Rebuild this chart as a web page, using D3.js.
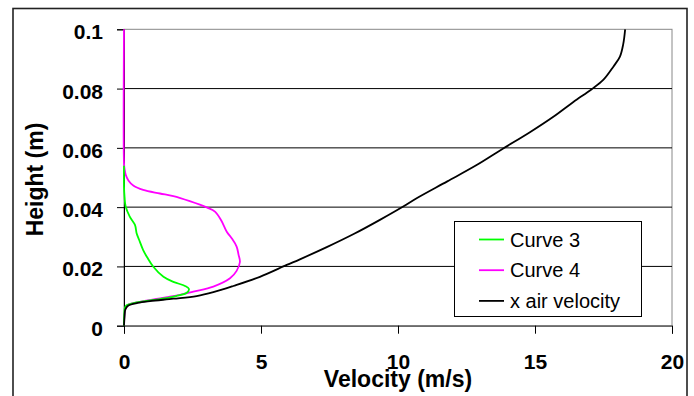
<!DOCTYPE html>
<html>
<head>
<meta charset="utf-8">
<script src="https://cdn.jsdelivr.net/npm/d3@7"></script>
<style>
  html, body { margin: 0; padding: 0; background: #fff; }
  svg { display: block; }
  text { font-family: "Liberation Sans", Arial, sans-serif; fill: #000; }
</style>
</head>
<body>
<svg id="chart" width="694" height="396"></svg>
<script>
// Velocity profiles: [velocity m/s, height m]
const curve3 = [
  [0, 0], [0.01, 0.004], [0.05, 0.0065], [0.21, 0.0073], [0.7, 0.0082], [1.31, 0.0090],
  [1.9, 0.0100], [2.29, 0.0111], [2.37, 0.0124], [2.23, 0.0134], [1.80, 0.0148],
  [1.44, 0.0165], [1.07, 0.0199], [0.85, 0.0230], [0.70, 0.0255], [0.55, 0.0290],
  [0.46, 0.0312], [0.40, 0.0340], [0.21, 0.0368], [0.06, 0.0402], [0.02, 0.0435],
  [0, 0.047], [0, 0.054]
];
const curve4 = [
  [0, 0], [0.02, 0.004], [0.1, 0.0068], [0.34, 0.0076], [1.31, 0.0092], [2.04, 0.0104],
  [2.53, 0.0115], [3.26, 0.0132], [3.87, 0.0160], [4.11, 0.0185], [4.23, 0.0215],
  [4.18, 0.0240], [4.11, 0.0267], [3.93, 0.0295], [3.75, 0.0317], [3.55, 0.0355],
  [3.32, 0.0385], [3.02, 0.0399], [2.4, 0.0420], [1.8, 0.0437], [1.31, 0.0446],
  [0.70, 0.0458], [0.35, 0.0472], [0.16, 0.0490], [0.06, 0.0510], [0.02, 0.0530],
  [0, 0.055], [0, 0.1]
];
const airVelocity = [
  [0, 0], [0.02, 0.003], [0.05, 0.0055], [0.16, 0.0068], [0.5, 0.0077], [0.95, 0.0083],
  [1.8, 0.0091], [2.65, 0.0100], [3.26, 0.0113], [3.99, 0.0134], [4.96, 0.0165],
  [5.94, 0.0205], [6.42, 0.0224], [7.4, 0.0265], [8.4, 0.0310], [9.34, 0.0357],
  [10.19, 0.0402], [10.68, 0.0430], [11.8, 0.0487], [12.87, 0.0542], [13.84, 0.0598],
  [14.8, 0.0652], [15.67, 0.0705], [16.4, 0.0755], [17.07, 0.0798], [17.5, 0.0830],
  [17.86, 0.0874], [18.10, 0.0908], [18.22, 0.0950], [18.29, 0.1]
];
const xTicks = [0, 5, 10, 15, 20];
const yTicks = [0, 0.02, 0.04, 0.06, 0.08, 0.1];
const yTickLabels = ["0", "0.02", "0.04", "0.06", "0.08", "0.1"];
const seriesNames = ["Curve 3", "Curve 4", "x air velocity"];
const seriesColors = ["#00ff00", "#ff00ff", "#000000"];

const svg = d3.select("#chart");
const plot = { left: 124, right: 672, top: 29.3, bottom: 325.7 };

const x = d3.scaleLinear().domain([0, 20]).range([plot.left, plot.right]);
const y = d3.scaleLinear().domain([0, 0.1]).range([plot.bottom, plot.top]);

// chart frame
svg.append("rect")
  .attr("x", 13).attr("y", 8.5).attr("width", 674).attr("height", 400)
  .attr("fill", "#fff").attr("stroke", "#222").attr("stroke-width", 1.6);

// plot area border
svg.append("rect")
  .attr("x", plot.left).attr("y", plot.top)
  .attr("width", plot.right - plot.left).attr("height", plot.bottom - plot.top)
  .attr("fill", "none").attr("stroke", "#888").attr("stroke-width", 1);

// horizontal gridlines
svg.append("g").selectAll("line")
  .data(yTicks.filter(d => d > 0 && d < 0.1))
  .join("line")
  .attr("x1", plot.left).attr("x2", plot.right)
  .attr("y1", d => y(d)).attr("y2", d => y(d))
  .attr("stroke", "#000").attr("stroke-width", 1);

// y axis
const yAxis = d3.axisLeft(y).tickValues(yTicks)
  .tickFormat((d, i) => yTickLabels[i]).tickSizeOuter(0).tickSize(7).tickPadding(14);
const gy = svg.append("g").attr("transform", `translate(${plot.left},0)`).call(yAxis);
gy.select(".domain").attr("stroke", "#000");
gy.selectAll(".tick line").attr("stroke", "#000");
gy.selectAll(".tick text")
  .attr("font-size", 21).attr("font-weight", "bold")
  .attr("font-family", "'Liberation Sans', Arial, sans-serif")
  .attr("dy", "0.45em");

// x axis
const xAxis = d3.axisBottom(x).tickValues(xTicks).tickSizeOuter(0).tickSize(8).tickPadding(0);
const gx = svg.append("g").attr("transform", `translate(0,${plot.bottom})`).call(xAxis);
gx.select(".domain").attr("stroke", "#333");
gx.selectAll(".tick line").attr("stroke", "#000");
gx.selectAll(".tick text")
  .attr("font-size", 21).attr("font-weight", "bold")
  .attr("font-family", "'Liberation Sans', Arial, sans-serif")
  .attr("y", 43).attr("dy", 0);

// series
const line = d3.line()
  .x(d => x(d[0])).y(d => y(d[1]))
  .curve(d3.curveCatmullRom.alpha(0.5));

const seriesData = [curve3, curve4, airVelocity];
// draw order: Curve 4, Curve 3, x air velocity
[1, 0, 2].forEach(i => {
  svg.append("path")
    .datum(seriesData[i])
    .attr("d", line)
    .attr("fill", "none")
    .attr("stroke", seriesColors[i])
    .attr("stroke-width", 1.8)
    .attr("stroke-linejoin", "round");
});

// axis titles
svg.append("text")
  .attr("x", (plot.left + plot.right) / 2).attr("y", 387)
  .attr("text-anchor", "middle")
  .attr("font-size", 23).attr("font-weight", "bold")
  .text("Velocity (m/s)");

svg.append("text")
  .attr("transform", `translate(43,${(plot.top + plot.bottom) / 2 + 2}) rotate(-90)`)
  .attr("text-anchor", "middle")
  .attr("font-size", 23).attr("font-weight", "bold")
  .text("Height (m)");

// legend
const legend = svg.append("g");
legend.append("rect")
  .attr("x", 454.5).attr("y", 221.5).attr("width", 187).attr("height", 95)
  .attr("fill", "#fff").attr("stroke", "#000").attr("stroke-width", 1);
seriesNames.forEach((name, i) => {
  const cy = 239.5 + i * 30.7;
  legend.append("line")
    .attr("x1", 479).attr("x2", 504).attr("y1", cy).attr("y2", cy)
    .attr("stroke", seriesColors[i]).attr("stroke-width", 1.8);
  legend.append("text")
    .attr("x", 510).attr("y", cy + 7)
    .attr("font-size", 20)
    .text(name);
});
</script>
</body>
</html>
